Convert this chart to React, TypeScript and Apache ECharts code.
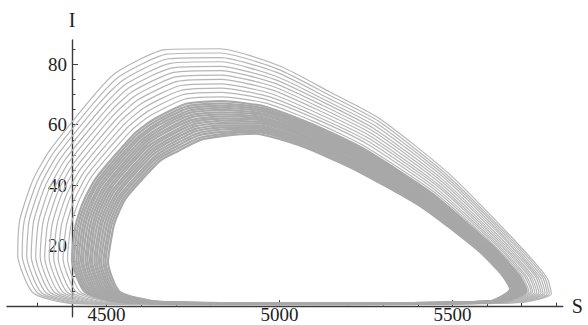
import React, { useEffect, useRef } from "react";
import * as echarts from "echarts";

// Each row is one spoke across the band of loops (in order around a loop);
// each column is one loop of the trajectory, outermost first.
const spokeS: number[][] = [
  [5060, 5060, 5060, 5060, 5060, 5060, 5060, 5060, 5060, 5060, 5060, 5060, 5060, 5060, 5060, 5060, 5060, 5060, 5060, 5060, 5060, 5060, 5060, 5060, 5060, 5060, 5060, 5060, 5060],
  [5696, 5692, 5687, 5683, 5679, 5674, 5670, 5666, 5661, 5657, 5653, 5648, 5644, 5642, 5639, 5637, 5635, 5633, 5631, 5629, 5626, 5624, 5622, 5620, 5618, 5616, 5613, 5611, 5609],
  [5786, 5780, 5774, 5768, 5762, 5756, 5750, 5744, 5738, 5732, 5727, 5721, 5715, 5712, 5709, 5706, 5703, 5700, 5697, 5694, 5691, 5688, 5685, 5682, 5679, 5676, 5673, 5670, 5667],
  [5774, 5767, 5761, 5754, 5747, 5741, 5734, 5727, 5721, 5714, 5708, 5701, 5694, 5691, 5688, 5684, 5681, 5678, 5674, 5671, 5668, 5664, 5661, 5658, 5654, 5651, 5648, 5644, 5641],
  [5676, 5671, 5666, 5661, 5656, 5650, 5645, 5640, 5635, 5630, 5625, 5620, 5615, 5612, 5610, 5607, 5605, 5602, 5600, 5597, 5594, 5592, 5589, 5587, 5584, 5582, 5579, 5577, 5574],
  [5485, 5481, 5478, 5474, 5470, 5467, 5463, 5459, 5456, 5452, 5449, 5445, 5441, 5439, 5438, 5436, 5434, 5432, 5430, 5428, 5427, 5425, 5423, 5421, 5419, 5418, 5416, 5414, 5412],
  [5291, 5287, 5283, 5279, 5275, 5271, 5267, 5263, 5259, 5255, 5251, 5246, 5242, 5240, 5238, 5236, 5234, 5232, 5230, 5228, 5226, 5224, 5222, 5220, 5218, 5216, 5214, 5212, 5210],
  [5146, 5142, 5137, 5133, 5129, 5124, 5120, 5116, 5111, 5107, 5103, 5098, 5094, 5092, 5089, 5087, 5085, 5083, 5081, 5079, 5076, 5074, 5072, 5070, 5068, 5066, 5063, 5061, 5059],
  [5001, 4997, 4994, 4990, 4987, 4983, 4979, 4976, 4972, 4969, 4965, 4961, 4958, 4956, 4954, 4952, 4951, 4949, 4947, 4945, 4943, 4942, 4940, 4938, 4936, 4934, 4933, 4931, 4929],
  [4828, 4828, 4829, 4829, 4829, 4830, 4830, 4830, 4830, 4831, 4831, 4831, 4832, 4832, 4832, 4832, 4832, 4832, 4833, 4833, 4833, 4833, 4833, 4833, 4833, 4834, 4834, 4834, 4834],
  [4669, 4674, 4679, 4684, 4689, 4694, 4699, 4704, 4709, 4714, 4720, 4725, 4730, 4732, 4735, 4737, 4740, 4742, 4745, 4747, 4750, 4752, 4755, 4757, 4760, 4762, 4765, 4767, 4770],
  [4530, 4539, 4548, 4557, 4565, 4574, 4583, 4592, 4601, 4610, 4619, 4627, 4636, 4641, 4645, 4649, 4654, 4658, 4663, 4667, 4672, 4676, 4680, 4685, 4689, 4694, 4698, 4703, 4707],
  [4464, 4474, 4483, 4493, 4502, 4512, 4521, 4531, 4540, 4550, 4559, 4569, 4578, 4583, 4588, 4592, 4597, 4602, 4607, 4611, 4616, 4621, 4626, 4630, 4635, 4640, 4645, 4649, 4654],
  [4336, 4347, 4358, 4369, 4380, 4391, 4402, 4413, 4424, 4435, 4446, 4457, 4468, 4474, 4479, 4485, 4490, 4496, 4501, 4507, 4512, 4518, 4523, 4529, 4534, 4540, 4545, 4551, 4556],
  [4287, 4299, 4311, 4323, 4335, 4347, 4359, 4371, 4383, 4395, 4407, 4419, 4431, 4437, 4443, 4449, 4455, 4461, 4467, 4473, 4479, 4485, 4491, 4497, 4503, 4509, 4515, 4521, 4527],
  [4249, 4262, 4276, 4289, 4303, 4316, 4330, 4343, 4357, 4370, 4384, 4397, 4410, 4417, 4424, 4431, 4437, 4444, 4451, 4458, 4464, 4471, 4478, 4484, 4491, 4498, 4505, 4511, 4518],
  [4243, 4256, 4269, 4282, 4295, 4308, 4321, 4334, 4347, 4360, 4374, 4387, 4400, 4406, 4413, 4419, 4426, 4432, 4439, 4445, 4452, 4458, 4465, 4471, 4478, 4484, 4491, 4497, 4504],
  [4287, 4300, 4312, 4325, 4337, 4350, 4362, 4375, 4387, 4400, 4413, 4425, 4438, 4444, 4450, 4456, 4463, 4469, 4475, 4482, 4488, 4494, 4500, 4507, 4513, 4519, 4525, 4532, 4538],
  [4394, 4407, 4420, 4433, 4446, 4459, 4472, 4485, 4498, 4511, 4524, 4537, 4550, 4557, 4563, 4570, 4576, 4583, 4589, 4596, 4602, 4609, 4615, 4622, 4628, 4635, 4641, 4648, 4654],
];

const spokeI: number[][] = [
  [0.4, 0.4, 0.5, 0.5, 0.5, 0.5, 0.6, 0.6, 0.6, 0.6, 0.7, 0.7, 0.7, 0.7, 0.7, 0.7, 0.8, 0.8, 0.8, 0.8, 0.8, 0.8, 0.8, 0.8, 0.9, 0.9, 0.9, 0.9, 0.9],
  [1.2, 1.2, 1.2, 1.3, 1.3, 1.3, 1.3, 1.3, 1.4, 1.4, 1.4, 1.4, 1.4, 1.5, 1.5, 1.5, 1.5, 1.5, 1.5, 1.5, 1.5, 1.5, 1.5, 1.6, 1.6, 1.6, 1.6, 1.6, 1.6],
  [4.0, 4.1, 4.2, 4.3, 4.3, 4.4, 4.5, 4.6, 4.7, 4.8, 4.9, 4.9, 5.0, 5.1, 5.1, 5.2, 5.2, 5.2, 5.3, 5.3, 5.4, 5.4, 5.4, 5.5, 5.5, 5.6, 5.6, 5.7, 5.7],
  [9.3, 9.4, 9.4, 9.5, 9.6, 9.7, 9.7, 9.8, 9.9, 9.9, 10.0, 10.1, 10.1, 10.2, 10.2, 10.2, 10.3, 10.3, 10.4, 10.4, 10.4, 10.5, 10.5, 10.5, 10.6, 10.6, 10.6, 10.7, 10.7],
  [22.2, 22.0, 21.8, 21.6, 21.5, 21.3, 21.1, 20.9, 20.7, 20.5, 20.4, 20.2, 20.0, 19.9, 19.8, 19.7, 19.6, 19.5, 19.4, 19.3, 19.2, 19.1, 19.1, 19.0, 18.9, 18.8, 18.7, 18.6, 18.5],
  [44.3, 43.7, 43.1, 42.6, 42.0, 41.4, 40.8, 40.2, 39.7, 39.1, 38.5, 37.9, 37.3, 37.1, 36.8, 36.5, 36.2, 35.9, 35.6, 35.3, 35.0, 34.7, 34.4, 34.2, 33.9, 33.6, 33.3, 33.0, 32.7],
  [61.9, 61.1, 60.3, 59.5, 58.6, 57.8, 57.0, 56.2, 55.4, 54.6, 53.8, 52.9, 52.1, 51.7, 51.3, 50.9, 50.5, 50.1, 49.7, 49.3, 48.9, 48.5, 48.0, 47.6, 47.2, 46.8, 46.4, 46.0, 45.6],
  [70.8, 69.9, 69.0, 68.1, 67.3, 66.4, 65.5, 64.6, 63.7, 62.8, 62.0, 61.1, 60.2, 59.7, 59.3, 58.9, 58.4, 58.0, 57.5, 57.1, 56.6, 56.2, 55.8, 55.3, 54.9, 54.4, 54.0, 53.5, 53.1],
  [79.4, 78.3, 77.2, 76.0, 74.9, 73.8, 72.7, 71.6, 70.4, 69.3, 68.2, 67.1, 66.0, 65.4, 64.8, 64.3, 63.7, 63.2, 62.6, 62.0, 61.5, 60.9, 60.4, 59.8, 59.2, 58.7, 58.1, 57.6, 57.0],
  [85.1, 83.7, 82.2, 80.8, 79.3, 77.9, 76.4, 75.0, 73.5, 72.1, 70.7, 69.2, 67.8, 67.0, 66.3, 65.6, 64.9, 64.1, 63.4, 62.7, 62.0, 61.3, 60.5, 59.8, 59.1, 58.4, 57.6, 56.9, 56.2],
  [84.8, 83.3, 81.8, 80.3, 78.8, 77.3, 75.8, 74.3, 72.8, 71.3, 69.9, 68.4, 66.9, 66.1, 65.4, 64.6, 63.9, 63.1, 62.4, 61.6, 60.9, 60.1, 59.4, 58.6, 57.9, 57.1, 56.4, 55.6, 54.9],
  [77.4, 76.1, 74.8, 73.5, 72.2, 70.9, 69.6, 68.3, 67.0, 65.7, 64.4, 63.0, 61.7, 61.1, 60.4, 59.8, 59.1, 58.5, 57.8, 57.2, 56.5, 55.9, 55.2, 54.6, 53.9, 53.3, 52.6, 52.0, 51.3],
  [69.8, 68.7, 67.6, 66.5, 65.4, 64.4, 63.3, 62.2, 61.1, 60.0, 58.9, 57.8, 56.7, 56.2, 55.6, 55.1, 54.5, 54.0, 53.5, 52.9, 52.4, 51.8, 51.3, 50.7, 50.2, 49.6, 49.1, 48.5, 48.0],
  [51.6, 50.8, 50.0, 49.2, 48.4, 47.6, 46.8, 46.0, 45.2, 44.4, 43.7, 42.9, 42.1, 41.7, 41.3, 40.9, 40.5, 40.1, 39.7, 39.3, 38.9, 38.5, 38.1, 37.7, 37.3, 36.9, 36.5, 36.1, 35.7],
  [41.7, 41.1, 40.4, 39.8, 39.1, 38.5, 37.8, 37.2, 36.5, 35.9, 35.3, 34.6, 34.0, 33.6, 33.3, 33.0, 32.7, 32.3, 32.0, 31.7, 31.4, 31.1, 30.7, 30.4, 30.1, 29.8, 29.4, 29.1, 28.8],
  [28.5, 28.3, 28.2, 28.0, 27.8, 27.7, 27.5, 27.3, 27.2, 27.0, 26.9, 26.7, 26.5, 26.4, 26.4, 26.3, 26.2, 26.1, 26.0, 25.9, 25.9, 25.8, 25.7, 25.6, 25.5, 25.4, 25.4, 25.3, 25.2],
  [16.9, 16.8, 16.7, 16.6, 16.4, 16.3, 16.2, 16.1, 16.0, 15.9, 15.8, 15.6, 15.5, 15.5, 15.4, 15.4, 15.3, 15.2, 15.2, 15.1, 15.1, 15.0, 14.9, 14.9, 14.8, 14.8, 14.7, 14.7, 14.6],
  [4.4, 4.4, 4.4, 4.4, 4.5, 4.5, 4.5, 4.5, 4.5, 4.5, 4.6, 4.6, 4.6, 4.6, 4.6, 4.6, 4.6, 4.6, 4.6, 4.6, 4.6, 4.6, 4.7, 4.7, 4.7, 4.7, 4.7, 4.7, 4.7],
  [0.9, 0.9, 1.0, 1.0, 1.0, 1.0, 1.1, 1.1, 1.1, 1.1, 1.2, 1.2, 1.2, 1.2, 1.2, 1.2, 1.3, 1.3, 1.3, 1.3, 1.3, 1.3, 1.3, 1.3, 1.4, 1.4, 1.4, 1.4, 1.4],
];

const xMajorTicks = [4500, 5000, 5500];
const xMinorTicks = [4300, 4600, 4700, 4800, 4900, 5100, 5200, 5300, 5400, 5600, 5700, 5800];
const yMajorTicks = [20, 40, 60, 80];
const yMinorTicks = [5, 10, 15, 25, 30, 35, 45, 50, 55, 65, 70, 75, 85];

const X_MIN = 4212;
const X_MAX = 5819;
const Y_MIN = -3.5;
const Y_MAX = 88;
const Y_AXIS_AT = 4400;

const FONT = "Liberation Serif";
const AXIS_COLOR = "#3c3c3c";
const TEXT_COLOR = "#1e1e1e";

export default function App() {
  const ref = useRef<HTMLDivElement>(null);

  useEffect(() => {
    if (!ref.current) return;
    const chart = echarts.init(ref.current, undefined, { renderer: "svg" });

    const nLoops = spokeS[0].length;
    const loops: number[][][] = [];
    for (let k = 0; k < nLoops; k++) {
      const pts = spokeS.map((row, j) => [row[k], spokeI[j][k]]);
      pts.push(pts[0]);
      loops.push(pts);
    }

    const gridLeft = 7;
    const gridRight = 25.3;
    const plotW = 588 - gridLeft - gridRight;
    const yAxisOffset = -((Y_AXIS_AT - X_MIN) / (X_MAX - X_MIN)) * plotW;

    const baseX = {
      type: "value" as const,
      min: X_MIN,
      max: X_MAX,
      position: "bottom" as const,
      splitLine: { show: false },
    };
    const baseY = {
      type: "value" as const,
      min: Y_MIN,
      max: Y_MAX,
      position: "left" as const,
      offset: yAxisOffset,
      splitLine: { show: false },
    };

    chart.setOption({
      animation: false,
      grid: {
        left: gridLeft,
        right: gridRight,
        top: 40,
        bottom: 8.3,
        containLabel: false,
        outerBoundsMode: "none",
      },
      xAxis: [
        {
          ...baseX,
          name: "S",
          nameLocation: "end",
          nameGap: 9,
          nameTextStyle: { fontFamily: FONT, fontSize: 20, color: TEXT_COLOR },
          axisLine: {
            show: true,
            onZero: true,
            onZeroAxisIndex: 0,
            lineStyle: { color: AXIS_COLOR, width: 1.4 },
          },
          axisTick: {
            show: true,
            inside: true,
            length: 6,
            customValues: xMajorTicks,
            lineStyle: { color: AXIS_COLOR, width: 1 },
          },
          axisLabel: {
            show: true,
            customValues: xMajorTicks,
            formatter: (v: number) => String(v),
            margin: -11.5,
            fontFamily: FONT,
            fontSize: 19,
            lineHeight: 19,
            color: TEXT_COLOR,
          },
        },
        {
          ...baseX,
          axisLine: {
            show: false,
            onZero: true,
            onZeroAxisIndex: 0,
          },
          axisTick: {
            show: true,
            inside: true,
            length: 3.5,
            customValues: xMinorTicks,
            lineStyle: { color: AXIS_COLOR, width: 1 },
          },
          axisLabel: { show: false },
        },
      ],
      yAxis: [
        {
          ...baseY,
          name: "I",
          nameLocation: "end",
          nameGap: 10,
          nameTextStyle: { fontFamily: FONT, fontSize: 20, color: TEXT_COLOR },
          axisLine: {
            show: true,
            onZero: false,
            lineStyle: { color: AXIS_COLOR, width: 1.4 },
          },
          axisTick: {
            show: true,
            inside: true,
            length: 6,
            customValues: yMajorTicks,
            lineStyle: { color: AXIS_COLOR, width: 1 },
          },
          axisLabel: {
            show: true,
            customValues: yMajorTicks,
            formatter: (v: number) => String(v),
            margin: 5,
            fontFamily: FONT,
            fontSize: 19,
            color: TEXT_COLOR,
          },
        },
        {
          ...baseY,
          axisLine: { show: false, onZero: false },
          axisTick: {
            show: true,
            inside: true,
            length: 3.5,
            customValues: yMinorTicks,
            lineStyle: { color: AXIS_COLOR, width: 1 },
          },
          axisLabel: { show: false },
        },
      ],
      series: loops.map((pts, k) => ({
        type: "line",
        xAxisIndex: 0,
        yAxisIndex: 0,
        data: pts,
        showSymbol: false,
        symbol: "none",
        smooth: 0.2,
        silent: true,
        lineStyle: {
          color: k < 12 ? "#b6b6b6" : "#a8a8a8",
          width: k < 12 ? 1.2 : 2.2,
        },
        z: 1,
      })),
    });

    return () => chart.dispose();
  }, []);

  return (
    <div
      ref={ref}
      style={{ position: "absolute", left: 0, top: 0, width: 588, height: 325 }}
    />
  );
}
